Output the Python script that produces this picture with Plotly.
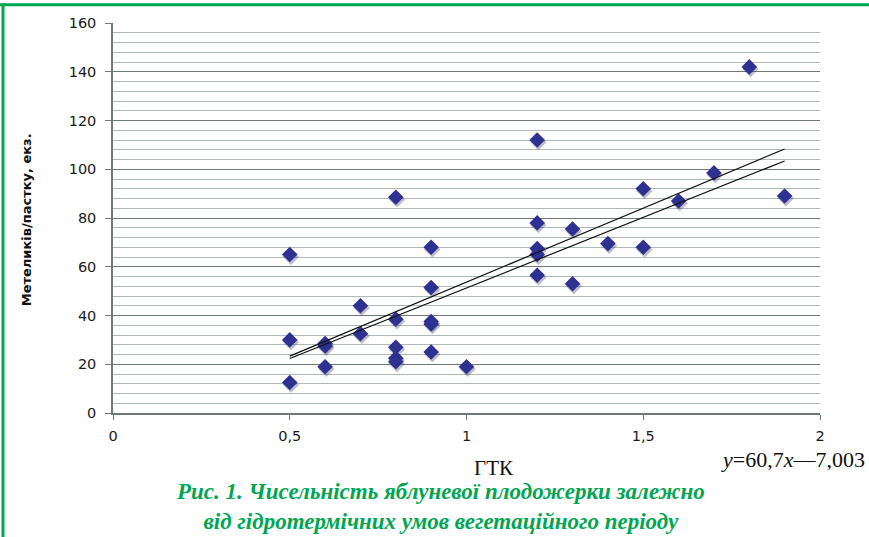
import plotly.graph_objects as go

# Data
gtk = [0.5, 0.5, 0.5,
       0.6, 0.6, 0.6,
       0.7, 0.7,
       0.8, 0.8, 0.8, 0.8, 0.8,
       0.9, 0.9, 0.9, 0.9, 0.9,
       1.0,
       1.2, 1.2, 1.2, 1.2, 1.2,
       1.3, 1.3,
       1.4,
       1.5, 1.5,
       1.6, 1.7, 1.8, 1.9]
moths = [65, 30, 12.5,
         28.5, 27.5, 19,
         44, 32.5,
         88.5, 38.5, 27, 22.5, 21,
         68, 51.5, 37.5, 36.5, 25,
         19,
         112, 78, 67.5, 65, 56.5,
         75.5, 53,
         69.5,
         92, 68,
         87, 98.5, 142, 89]

# Two trend lines: (slope, intercept)
trend_coefs = [(60.7, -7.003), (57.9, -6.6)]
trend_x = [0.5, 1.9]

x_ticks = [0, 0.5, 1, 1.5, 2]
y_ticks = [0, 20, 40, 60, 80, 100, 120, 140, 160]

y_title = "Метеликів/пастку, екз."
x_title = "ГТК"
equation = "<i>y</i>=60,7<i>x</i>—7,003"
caption1 = "Рис. 1. Чисельність яблуневої плодожерки залежно"
caption2 = "від гідротермічних умов вегетаційного періоду"

GREEN = "#00a651"
NAVY = "#2e3192"

fig = go.Figure()

# subtle drop shadow for markers (offset of ~1px right, 2px down)
px_x = 2 / 706.0
px_y = 160 / 390.6
fig.add_trace(go.Scatter(
    x=[v + 1.2 * px_x for v in gtk], y=[v - 2.2 * px_y for v in moths],
    mode="markers",
    marker=dict(symbol="diamond", size=12.5, color="rgba(60,70,90,0.35)"),
    hoverinfo="skip", showlegend=False))

fig.add_trace(go.Scatter(
    x=gtk, y=moths, mode="markers",
    marker=dict(symbol="diamond", size=12, color=NAVY),
    showlegend=False))

for slope, icpt in trend_coefs:
    fig.add_trace(go.Scatter(
        x=trend_x, y=[slope * v + icpt for v in trend_x],
        mode="lines", line=dict(color="#111111", width=1.2),
        hoverinfo="skip", showlegend=False))

tick_font = dict(family="DejaVu Sans", size=14.5, color="#1a1a1a")

fig.update_layout(
    width=869, height=537,
    margin=dict(l=113, r=49, t=23, b=124),
    paper_bgcolor="white", plot_bgcolor="white",
    separators=", ",
    font=dict(family="DejaVu Sans", size=13, color="#222222"),
    xaxis=dict(range=[0, 2], tickvals=x_ticks, showgrid=False, zeroline=False,
               showline=True, linecolor="#6e7a7a", linewidth=1.5,
               ticks="outside", ticklen=5, tickcolor="#6e7a7a",
               ticklabelstandoff=4, tickfont=tick_font),
    yaxis=dict(range=[0, 160], tickvals=y_ticks, showgrid=True,
               gridcolor="#6e7a7a", gridwidth=1.3, zeroline=False,
               showline=True, linecolor="#6e7a7a", linewidth=1.5,
               ticks="outside", ticklen=6, tickcolor="#6e7a7a",
               ticklabelstandoff=6, tickfont=tick_font,
               minor=dict(dtick=4, showgrid=True, gridcolor="#aebaba",
                          gridwidth=1.3, ticks="")),
)

fig.add_annotation(text="<b>" + y_title + "</b>", xref="paper", yref="paper",
                   x=(26 - 113) / 707, y=(413 - 220) / 390.6, textangle=-90,
                   showarrow=False,
                   font=dict(family="DejaVu Sans", size=13, color="#111111"),
                   xanchor="center", yanchor="middle")

fig.add_annotation(text=x_title, xref="paper", yref="paper",
                   x=(494 - 113) / 707, y=(413 - 468) / 390.6, showarrow=False,
                   font=dict(family="Liberation Serif", size=21, color="#111111"),
                   xanchor="center", yanchor="middle")
fig.add_annotation(text=equation, xref="paper", yref="paper",
                   x=(867 - 113) / 707, y=(413 - 460) / 390.6, showarrow=False,
                   font=dict(family="Liberation Serif", size=22, color="#111111"),
                   xanchor="right", yanchor="middle")
fig.add_annotation(text="<b><i>" + caption1 + "<br>" + caption2 + "</i></b>",
                   xref="paper", yref="paper",
                   x=(440 - 113) / 707, y=(413 - 507) / 390.6, showarrow=False,
                   font=dict(family="Liberation Serif", size=23, color=GREEN),
                   xanchor="center", yanchor="middle", align="center")

# green frame (top and left edges)
fig.add_shape(type="line", xref="paper", yref="paper",
              x0=(0 - 113) / 707, x1=(869 - 113) / 707,
              y0=(413 - 4) / 390.6, y1=(413 - 4) / 390.6,
              line=dict(color=GREEN, width=3))
fig.add_shape(type="line", xref="paper", yref="paper",
              x0=(3 - 113) / 707, x1=(3 - 113) / 707,
              y0=(413 - 3) / 390.6, y1=(413 - 540) / 390.6,
              line=dict(color=GREEN, width=3))

fig.write_html("out.html")
